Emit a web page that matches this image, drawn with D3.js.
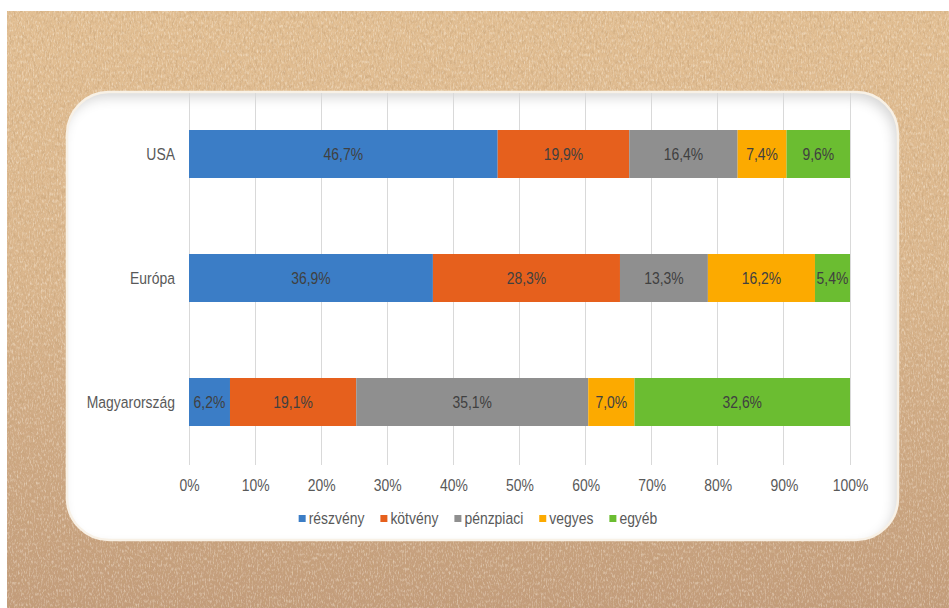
<!DOCTYPE html>
<html>
<head>
<meta charset="utf-8">
<script src="https://cdn.jsdelivr.net/npm/d3@7"></script>
<style>
  html, body { margin: 0; padding: 0; background: #ffffff; }
  svg { display: block; }
  text { font-family: "Liberation Sans", Arial, sans-serif; }
</style>
</head>
<body>
<svg id="chart" width="949" height="608"></svg>
<script>
// Fund categories and their asset mix (percent of total)
const categories = ["USA", "Európa", "Magyarország"];
const seriesNames = ["részvény", "kötvény", "pénzpiaci", "vegyes", "egyéb"];
const reszveny  = [46.7, 36.9, 6.2];
const kotveny   = [19.9, 28.3, 19.1];
const penzpiaci = [16.4, 13.3, 35.1];
const vegyes    = [7.4, 16.2, 7.0];
const egyeb     = [9.6, 5.4, 32.6];
const tickValues = [0, 10, 20, 30, 40, 50, 60, 70, 80, 90, 100];
const seriesColors = ["#3b7dc6", "#e6601d", "#8f8f8f", "#fcaa00", "#6bbd31"];

const seriesValues = [reszveny, kotveny, penzpiaci, vegyes, egyeb];
const rows = categories.map((c, i) => {
  const r = { category: c };
  seriesNames.forEach((s, j) => { r[s] = seriesValues[j][i]; });
  return r;
});

// narrow type: regular sans squeezed horizontally
const SQ = 0.82;
const NARROW = `scale(${SQ},1)`;
const FS = 17;

const svg = d3.select("#chart");
const W = 949, H = 608;
const defs = svg.append("defs");

// Kraft paper background
const bg = defs.append("linearGradient").attr("id", "paperGrad")
  .attr("x1", 0).attr("y1", 0).attr("x2", 0).attr("y2", 1);
bg.append("stop").attr("offset", "0%").attr("stop-color", "#e2bf93");
bg.append("stop").attr("offset", "45%").attr("stop-color", "#dab68d");
bg.append("stop").attr("offset", "100%").attr("stop-color", "#c29c7b");

const fDark = defs.append("filter").attr("id", "fibersDark")
  .attr("x", 0).attr("y", 0).attr("width", "100%").attr("height", "100%");
fDark.append("feTurbulence").attr("type", "fractalNoise")
  .attr("baseFrequency", "0.5 0.2").attr("numOctaves", 3).attr("seed", 7);
fDark.append("feColorMatrix").attr("type", "matrix")
  .attr("values", "0 0 0 0 0.55  0 0 0 0 0.35  0 0 0 0 0.18  2.0 0 0 0 -0.9");

const fLight = defs.append("filter").attr("id", "fibersLight")
  .attr("x", 0).attr("y", 0).attr("width", "100%").attr("height", "100%");
fLight.append("feTurbulence").attr("type", "fractalNoise")
  .attr("baseFrequency", "0.75 0.28").attr("numOctaves", 2).attr("seed", 3);
fLight.append("feColorMatrix").attr("type", "matrix")
  .attr("values", "0 0 0 0 1  0 0 0 0 0.94  0 0 0 0 0.84  0 2.0 0 0 -0.95");

svg.append("rect").attr("x", 7).attr("y", 11).attr("width", W - 7).attr("height", H - 11)
  .attr("fill", "url(#paperGrad)");
svg.append("rect").attr("x", 7).attr("y", 11).attr("width", W - 7).attr("height", H - 11)
  .attr("filter", "url(#fibersDark)").attr("opacity", 0.7);
svg.append("rect").attr("x", 7).attr("y", 11).attr("width", W - 7).attr("height", H - 11)
  .attr("filter", "url(#fibersLight)").attr("opacity", 0.55);

// White card with a soft inner shadow along the top and right edges
const inset = defs.append("filter").attr("id", "insetShadow")
  .attr("x", "-5%").attr("y", "-5%").attr("width", "110%").attr("height", "110%");
inset.append("feFlood").attr("flood-color", "#000").attr("flood-opacity", 0.32);
inset.append("feComposite").attr("in2", "SourceAlpha").attr("operator", "out");
inset.append("feGaussianBlur").attr("stdDeviation", 6);
inset.append("feOffset").attr("dx", -4).attr("dy", 6).attr("result", "sh");
inset.append("feComposite").attr("in", "sh").attr("in2", "SourceAlpha").attr("operator", "in").attr("result", "inner");
const merge = inset.append("feMerge");
merge.append("feMergeNode").attr("in", "SourceGraphic");
merge.append("feMergeNode").attr("in", "inner");

svg.append("rect")
  .attr("x", 67).attr("y", 92).attr("width", 831).attr("height", 448).attr("rx", 42)
  .attr("fill", "#ffffff").attr("filter", "url(#insetShadow)");
svg.append("rect")
  .attr("x", 67).attr("y", 92).attr("width", 831).attr("height", 448).attr("rx", 42)
  .attr("fill", "none").attr("stroke", "#f8f1e6").attr("stroke-width", 2.5);

// Scales
const x = d3.scaleLinear().domain([0, 100]).range([189, 850]);
const y = d3.scaleBand().domain(categories).range([92, 464])
  .paddingInner(0.613).paddingOuter(0.3065);

// Vertical gridlines
svg.append("g").selectAll("line").data(tickValues).join("line")
  .attr("x1", d => x(d)).attr("x2", d => x(d))
  .attr("y1", 93).attr("y2", 465)
  .attr("stroke", "#d9d9d9").attr("stroke-width", 1)
  .attr("shape-rendering", "crispEdges");

// Stacked bars
const stack = d3.stack().keys(seriesNames);
const stacked = stack(rows);
const color = d3.scaleOrdinal().domain(seriesNames).range(seriesColors);

const layers = svg.append("g").selectAll("g").data(stacked).join("g")
  .attr("fill", d => color(d.key));
layers.selectAll("rect").data(d => d).join("rect")
  .attr("x", d => x(d[0]))
  .attr("y", d => y(d.data.category))
  .attr("width", d => Math.max(0, Math.min(x(100), x(d[1])) - x(d[0])))
  .attr("height", y.bandwidth());

// Value labels
layers.selectAll("g.lbl").data(d => d.map(v => ({ v, key: d.key }))).join("g")
  .attr("class", "lbl")
  .attr("transform", d => `translate(${(x(d.v[0]) + Math.min(x(100), x(d.v[1]))) / 2},${y(d.v.data.category) + y.bandwidth() / 2}) ${NARROW}`)
  .append("text")
  .attr("dy", "0.35em")
  .attr("text-anchor", "middle")
  .attr("font-size", FS)
  .attr("fill", "#404040")
  .text(d => d3.format(".1f")(d.v.data[d.key]).replace(".", ",") + "%");

// Category axis labels
svg.append("g").selectAll("g").data(categories).join("g")
  .attr("transform", d => `translate(175,${y(d) + y.bandwidth() / 2}) ${NARROW}`)
  .append("text")
  .attr("dy", "0.35em")
  .attr("text-anchor", "end")
  .attr("font-size", FS)
  .attr("fill", "#595959")
  .text(d => d);

// Percentage axis
const xAxis = d3.axisBottom(x).tickValues(tickValues).tickSize(0)
  .tickFormat(d => d + "%");
const axisG = svg.append("g").attr("transform", "translate(0,476)").call(xAxis);
axisG.select(".domain").remove();
axisG.selectAll("text")
  .attr("font-size", FS)
  .attr("fill", "#595959")
  .attr("font-family", null)
  .attr("transform", NARROW);

// Legend
const legend = svg.append("g");
const items = legend.selectAll("g").data(seriesNames).join("g");
items.append("rect").attr("width", 7).attr("height", 7).attr("y", -4)
  .attr("fill", d => color(d));
items.append("g").attr("transform", `translate(10,0) ${NARROW}`)
  .append("text").attr("dy", "0.32em")
  .attr("font-size", FS).attr("fill", "#595959").text(d => d);
let cx = 0;
const offsets = [];
items.each(function () {
  offsets.push(cx);
  const t = d3.select(this).select("text").node();
  cx += 10 + t.getComputedTextLength() * SQ + 16;
});
const total = cx - 16;
const startX = 478 - total / 2;
items.attr("transform", (d, i) => `translate(${startX + offsets[i]},519)`);
</script>
</body>
</html>
